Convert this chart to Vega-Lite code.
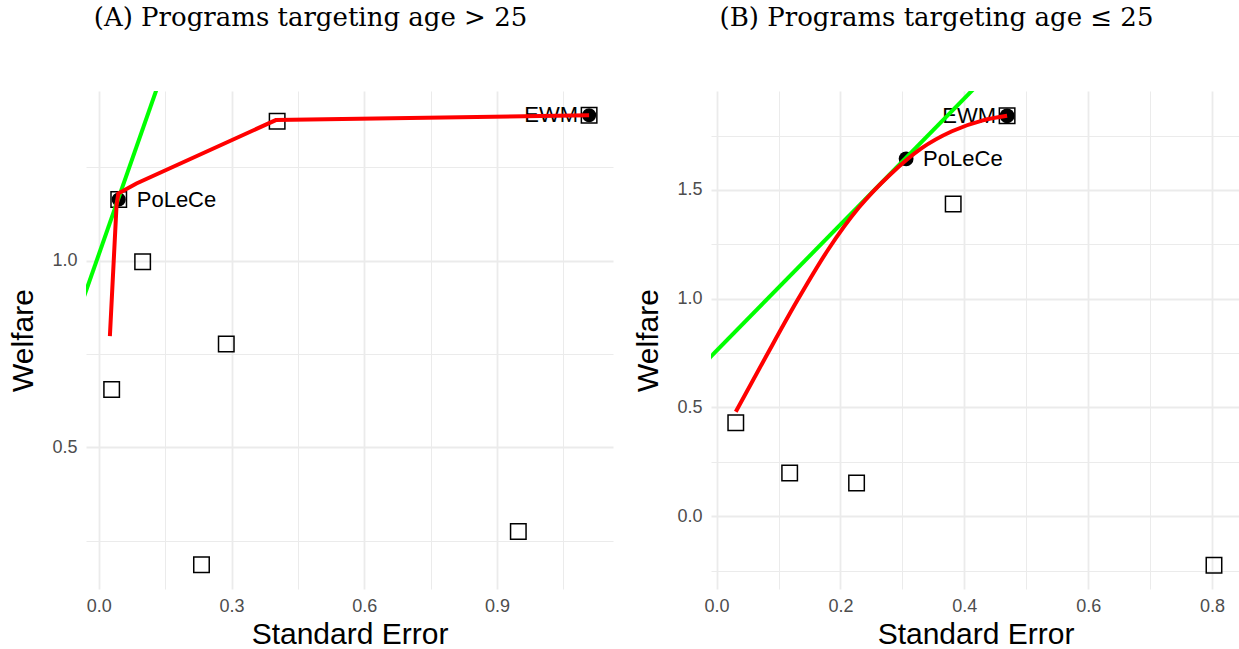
{
  "$schema": "https://vega.github.io/schema/vega-lite/v6.json",
  "background": "white",
  "padding": {"left": 8, "top": 5, "right": 0, "bottom": 0},
  "config": {
    "view": {"stroke": null},
    "font": "Liberation Sans",
    "axis": {
      "domain": false,
      "ticks": false,
      "labelFont": "Liberation Sans",
      "labelFontSize": 18,
      "labelColor": "#4d4d4d",
      "titleFont": "Liberation Sans",
      "titleFontSize": 30,
      "titleFontWeight": "normal",
      "titleColor": "#000000",
      "gridColor": "#ebebeb"
    },
    "title": {"font": "DejaVu Serif", "fontSize": 26, "fontWeight": "normal", "color": "#000000", "anchor": "middle", "frame": "bounds", "offset": 60},
    "concat": {"spacing": 20}
  },
  "datasets": {
    "a_programs": [
      {"se": 0.029, "w": 0.655},
      {"se": 0.099, "w": 0.997},
      {"se": 0.232, "w": 0.185},
      {"se": 0.288, "w": 0.777},
      {"se": 0.403, "w": 1.374},
      {"se": 0.948, "w": 0.274},
      {"se": 0.045, "w": 1.164},
      {"se": 1.108, "w": 1.39}
    ],
    "a_selected": [
      {"se": 0.045, "w": 1.164, "label": "PoLeCe"},
      {"se": 1.108, "w": 1.39, "label": "EWM"}
    ],
    "a_frontier": [
      {"se": 0.025, "w": 0.798, "o": 1},
      {"se": 0.04, "w": 1.148, "o": 2},
      {"se": 0.044, "w": 1.18, "o": 3},
      {"se": 0.085, "w": 1.207, "o": 4},
      {"se": 0.4, "w": 1.377, "o": 5},
      {"se": 1.108, "w": 1.39, "o": 6}
    ],
    "a_tangent": [
      {"se": -0.1, "w": 0.678},
      {"se": 0.2, "w": 1.695}
    ],
    "b_programs": [
      {"se": 0.031, "w": 0.429},
      {"se": 0.118, "w": 0.198},
      {"se": 0.226, "w": 0.152},
      {"se": 0.382, "w": 1.435},
      {"se": 0.803, "w": -0.226},
      {"se": 0.469, "w": 1.841}
    ],
    "b_selected": [
      {"se": 0.306, "w": 1.643, "label": "PoLeCe"},
      {"se": 0.469, "w": 1.841, "label": "EWM"}
    ],
    "b_frontier": [
      {"se": 0.031, "w": 0.48, "o": 1},
      {"se": 0.08, "w": 0.735, "o": 2},
      {"se": 0.13, "w": 0.99, "o": 3},
      {"se": 0.18, "w": 1.225, "o": 4},
      {"se": 0.23, "w": 1.42, "o": 5},
      {"se": 0.28, "w": 1.57, "o": 6},
      {"se": 0.33, "w": 1.69, "o": 7},
      {"se": 0.38, "w": 1.77, "o": 8},
      {"se": 0.43, "w": 1.82, "o": 9},
      {"se": 0.469, "w": 1.841, "o": 10}
    ],
    "b_tangent": [
      {"se": -0.05, "w": 0.616},
      {"se": 0.5, "w": 2.211}
    ]
  },
  "hconcat": [
    {
      "title": {"text": "(A) Programs targeting age > 25"},
      "width": 527,
      "height": 498,
      "layer": [
        {
          "data": {"name": "a_programs"},
          "mark": {"type": "point", "shape": "square", "filled": false, "stroke": "black", "strokeWidth": 1.5, "size": 240, "opacity": 1},
          "encoding": {
            "x": {"field": "se", "type": "quantitative", "title": "Standard Error",
              "scale": {"domain": [-0.029, 1.162], "nice": false, "zero": false},
              "axis": {"values": [0, 0.15, 0.3, 0.45, 0.6, 0.75, 0.9, 1.05], "format": ".1f",
                "labelExpr": "indexof([0.15, 0.45, 0.75, 1.05], datum.value) >= 0 ? '' : datum.label",
                "gridWidth": {"condition": {"test": "indexof([0.15, 0.45, 0.75, 1.05], datum.value) >= 0", "value": 1}, "value": 1.8},
                "labelPadding": 8, "titlePadding": 4}},
            "y": {"field": "w", "type": "quantitative", "title": "Welfare",
              "scale": {"domain": [0.12, 1.455], "nice": false, "zero": false},
              "axis": {"values": [0.25, 0.5, 0.75, 1.0, 1.25], "format": ".1f",
                "labelExpr": "indexof([0.25, 0.75, 1.25], datum.value) >= 0 ? '' : datum.label",
                "gridWidth": {"condition": {"test": "indexof([0.25, 0.75, 1.25], datum.value) >= 0", "value": 1}, "value": 1.8},
                "labelPadding": 9, "minExtent": 40, "maxExtent": 40, "titlePadding": 8}}
          }
        },
        {
          "data": {"name": "a_selected"},
          "mark": {"type": "point", "shape": "circle", "filled": true, "color": "black", "size": 200, "opacity": 1},
          "encoding": {
            "x": {"field": "se", "type": "quantitative", "title": "Standard Error"},
            "y": {"field": "w", "type": "quantitative", "title": "Welfare"}
          }
        },
        {
          "data": {"name": "a_selected"},
          "transform": [{"filter": "datum.label == 'PoLeCe'"}],
          "mark": {"type": "text", "align": "left", "baseline": "middle", "dx": 18, "fontSize": 22, "font": "Liberation Sans", "color": "black"},
          "encoding": {
            "x": {"field": "se", "type": "quantitative", "title": "Standard Error"},
            "y": {"field": "w", "type": "quantitative", "title": "Welfare"},
            "text": {"field": "label"}
          }
        },
        {
          "data": {"name": "a_selected"},
          "transform": [{"filter": "datum.label == 'EWM'"}],
          "mark": {"type": "text", "align": "right", "baseline": "middle", "dx": -11, "fontSize": 22, "font": "Liberation Sans", "color": "black"},
          "encoding": {
            "x": {"field": "se", "type": "quantitative", "title": "Standard Error"},
            "y": {"field": "w", "type": "quantitative", "title": "Welfare"},
            "text": {"field": "label"}
          }
        },
        {
          "data": {"name": "a_tangent"},
          "mark": {"type": "line", "color": "#00ff00", "strokeWidth": 4, "clip": true},
          "encoding": {
            "x": {"field": "se", "type": "quantitative", "title": "Standard Error"},
            "y": {"field": "w", "type": "quantitative", "title": "Welfare"}
          }
        },
        {
          "data": {"name": "a_frontier"},
          "mark": {"type": "line", "color": "#ff0000", "strokeWidth": 4, "clip": true},
          "encoding": {
            "x": {"field": "se", "type": "quantitative", "title": "Standard Error"},
            "y": {"field": "w", "type": "quantitative", "title": "Welfare"},
            "order": {"field": "o", "type": "quantitative"}
          }
        }
      ]
    },
    {
      "title": {"text": "(B) Programs targeting age ≤ 25"},
      "width": 529,
      "height": 498,
      "layer": [
        {
          "data": {"name": "b_programs"},
          "mark": {"type": "point", "shape": "square", "filled": false, "stroke": "black", "strokeWidth": 1.5, "size": 240, "opacity": 1},
          "encoding": {
            "x": {"field": "se", "type": "quantitative", "title": "Standard Error",
              "scale": {"domain": [-0.009, 0.845], "nice": false, "zero": false},
              "axis": {"values": [0, 0.1, 0.2, 0.3, 0.4, 0.5, 0.6, 0.7, 0.8], "format": ".1f",
                "labelExpr": "indexof([0.1, 0.3, 0.5, 0.7], datum.value) >= 0 ? '' : datum.label",
                "gridWidth": {"condition": {"test": "indexof([0.1, 0.3, 0.5, 0.7], datum.value) >= 0", "value": 1}, "value": 1.8},
                "labelPadding": 8, "titlePadding": 4}},
            "y": {"field": "w", "type": "quantitative", "title": "Welfare",
              "scale": {"domain": [-0.335, 1.955], "nice": false, "zero": false},
              "axis": {"values": [-0.25, 0, 0.25, 0.5, 0.75, 1.0, 1.25, 1.5, 1.75], "format": ".1f",
                "labelExpr": "indexof([-0.25, 0.25, 0.75, 1.25, 1.75], datum.value) >= 0 ? '' : datum.label",
                "gridWidth": {"condition": {"test": "indexof([-0.25, 0.25, 0.75, 1.25, 1.75], datum.value) >= 0", "value": 1}, "value": 1.8},
                "labelPadding": 9, "minExtent": 40, "maxExtent": 40, "titlePadding": 8}}
          }
        },
        {
          "data": {"name": "b_selected"},
          "mark": {"type": "point", "shape": "circle", "filled": true, "color": "black", "size": 220, "opacity": 1},
          "encoding": {
            "x": {"field": "se", "type": "quantitative", "title": "Standard Error"},
            "y": {"field": "w", "type": "quantitative", "title": "Welfare"}
          }
        },
        {
          "data": {"name": "b_selected"},
          "transform": [{"filter": "datum.label == 'PoLeCe'"}],
          "mark": {"type": "text", "align": "left", "baseline": "middle", "dx": 17, "fontSize": 22, "font": "Liberation Sans", "color": "black"},
          "encoding": {
            "x": {"field": "se", "type": "quantitative", "title": "Standard Error"},
            "y": {"field": "w", "type": "quantitative", "title": "Welfare"},
            "text": {"field": "label"}
          }
        },
        {
          "data": {"name": "b_selected"},
          "transform": [{"filter": "datum.label == 'EWM'"}],
          "mark": {"type": "text", "align": "right", "baseline": "middle", "dx": -11, "fontSize": 22, "font": "Liberation Sans", "color": "black"},
          "encoding": {
            "x": {"field": "se", "type": "quantitative", "title": "Standard Error"},
            "y": {"field": "w", "type": "quantitative", "title": "Welfare"},
            "text": {"field": "label"}
          }
        },
        {
          "data": {"name": "b_tangent"},
          "mark": {"type": "line", "color": "#00ff00", "strokeWidth": 4, "clip": true},
          "encoding": {
            "x": {"field": "se", "type": "quantitative", "title": "Standard Error"},
            "y": {"field": "w", "type": "quantitative", "title": "Welfare"}
          }
        },
        {
          "data": {"name": "b_frontier"},
          "mark": {"type": "line", "color": "#ff0000", "strokeWidth": 4, "interpolate": "monotone", "clip": true},
          "encoding": {
            "x": {"field": "se", "type": "quantitative", "title": "Standard Error"},
            "y": {"field": "w", "type": "quantitative", "title": "Welfare"},
            "order": {"field": "o", "type": "quantitative"}
          }
        }
      ]
    }
  ]
}
